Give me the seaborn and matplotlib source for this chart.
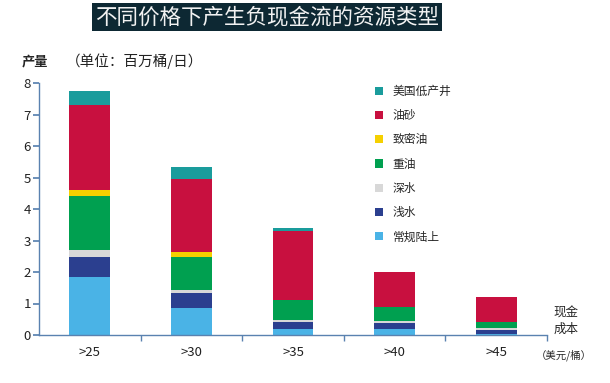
import numpy as np
import pandas as pd
import matplotlib
matplotlib.use('Agg')
import matplotlib.pyplot as plt
from matplotlib.patches import Patch
import seaborn as sns

# 数据 (百万桶/日)
cost = ['>25', '>30', '>35', '>40', '>45']
types = ['美国低产井', '油砂', '致密油', '重油', '深水', '浅水', '常规陆上']
low_well = [0.45, 0.38, 0.09, 0.0, 0.0]
oil_sand = [2.70, 2.33, 2.19, 1.09, 0.78]
tight_oil = [0.19, 0.13, 0.02, 0.0, 0.0]
heavy_oil = [1.72, 1.06, 0.62, 0.47, 0.21]
deep_water = [0.23, 0.10, 0.07, 0.05, 0.05]
shallow_water = [0.62, 0.46, 0.22, 0.20, 0.12]
onshore = [1.85, 0.87, 0.19, 0.18, 0.04]

colors = ['#1a9c9c', '#c8103f', '#f5d000', '#00a050', '#d8d8d8', '#2b3f8f', '#4ab3e6']

sns.set_theme(style='white')
plt.rcParams['font.family'] = ['Noto Sans CJK SC', 'DejaVu Sans']

series = [low_well, oil_sand, tight_oil, heavy_oil, deep_water, shallow_water, onshore]
rows = []
for t, vals in zip(types, series):
    for c, v in zip(cost, vals):
        rows.append({'cost': c, 'type': t, 'value': v})
df = pd.DataFrame(rows)

fig = plt.figure(figsize=(6.1, 3.83), dpi=100)
ax = fig.add_axes([39 / 610, 48 / 383, 508 / 610, 252 / 383])

sns.histplot(data=df, x='cost', weights='value', hue='type', hue_order=types,
             palette=colors, multiple='stack', discrete=True, shrink=0.4,
             alpha=1, linewidth=0, legend=False, ax=ax)

ax.set_xlim(-0.5, 4.5)
ax.set_ylim(0, 8)
ax.set_yticks(range(9))
ax.set_xticks(range(5))
ax.set_xticklabels(cost)
ax.set_xticks(np.arange(0.5, 5, 1), minor=True)
ax.set_xlabel('')
ax.set_ylabel('')
spine_c = '#5a82b0'
for s in ['top', 'right']:
    ax.spines[s].set_visible(False)
for s in ['left', 'bottom']:
    ax.spines[s].set_color(spine_c)
    ax.spines[s].set_linewidth(1.0)
ax.tick_params(axis='y', left=True, length=4, color=spine_c, labelsize=9.5, pad=2, labelcolor='#222222')
ax.tick_params(axis='x', which='major', bottom=False, labelsize=9.5, pad=2, labelcolor='#222222')
ax.tick_params(axis='x', which='minor', bottom=True, length=4, color=spine_c)

handles = [Patch(facecolor=c, edgecolor='none', label=t) for t, c in zip(types, colors)]
fig.legend(handles=handles, loc='upper left', bbox_to_anchor=(375 / 610, 1 - 85 / 383),
           frameon=False, fontsize=8.5, handlelength=0.7, handleheight=0.7,
           handletextpad=0.8, labelspacing=0.95, borderpad=0, borderaxespad=0)

# 标题
fig.text(267 / 610, 1 - 17 / 383, '不同价格下产生负现金流的资源类型', ha='center', va='center',
         fontsize=15.5, color='#f2f2f2',
         bbox=dict(boxstyle='square,pad=0.12', facecolor='#0d2833', edgecolor='none'))

fig.text(22 / 610, 1 - 61 / 383, '产量', ha='left', va='center', fontsize=9.5, fontweight='bold')
fig.text(66 / 610, 1 - 61 / 383, '（单位：百万桶/日）', ha='left', va='center', fontsize=10.5,
         color='#222222')

fig.text(566 / 610, 1 - 321 / 383, '现金\n成本', ha='center', va='center', fontsize=9,
         linespacing=1.3)
fig.text(564 / 610, 1 - 355 / 383, '（美元/桶）', ha='center', va='center', fontsize=7.5)

fig.savefig('out.png', dpi=100)
